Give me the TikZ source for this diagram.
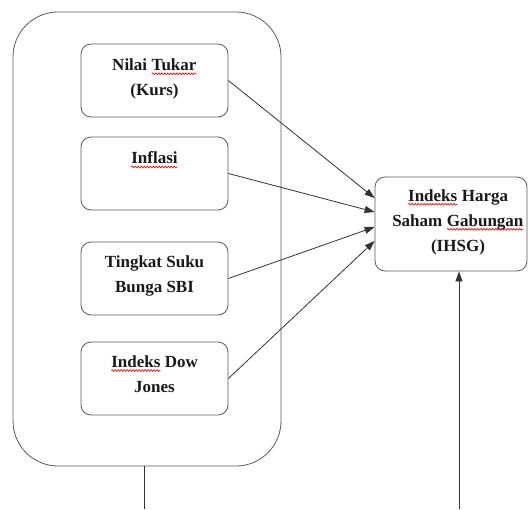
\documentclass[tikz,border=0pt]{standalone}
\usepackage{fontspec}
\setmainfont{Liberation Serif}
\usetikzlibrary{decorations.pathmorphing,arrows.meta}
\newcommand{\sqw}[1]{\tikz[baseline=(w.base)]{\node[draw=none,fill=none,sharp corners,inner sep=0pt,outer sep=0pt,minimum width=0pt,minimum height=0pt,anchor=base](w) at (0,0){#1};\draw[sharp corners,draw=red!85!black,line width=0.6pt,decorate,decoration={snake,amplitude=0.9pt,segment length=3pt}]([yshift=-3.2pt]w.base west)--([yshift=-3.2pt]w.base east);}}
\begin{document}
\begin{tikzpicture}[x=1pt,y=-1pt,
  txt/.style={font=\bfseries\fontsize{17}{25}\selectfont, align=center, text=black!90},
  box/.style={draw=black!65, line width=0.8pt, rounded corners=10pt, minimum width=147pt, minimum height=73pt, inner sep=0pt},
  conn/.style={draw=black!80, line width=0.8pt},
  arr/.style={conn, -{Triangle[length=10pt,width=7pt]}}]
\useasboundingbox (0,0) rectangle (530,509);
\node[draw=black!65, line width=0.8pt, rounded corners=45pt, minimum width=268pt, minimum height=454pt, inner sep=0pt] (O) at (147,239) {};
\node[box] (b1) at (154.5,80.5) {};
\node[txt] (t1) at (154.5,79) {Nilai \sqw{Tukar}\\(Kurs)};
\node[box] (b2) at (154.5,173.5) {};
\node[txt] (t2) at (154.5,160) {\sqw{Inflasi}};
\node[box] (b3) at (154.5,278.5) {};
\node[txt] (t3) at (154.5,276) {Tingkat Suku\\Bunga SBI};
\node[box] (b4) at (154.5,378.5) {};
\node[txt] (t4) at (154.5,374) {\sqw{Indeks} Dow\\Jones};
\node[box, minimum width=152pt, minimum height=94pt] (R) at (451,224) {};
\node[txt] (Rt) at (458,222) {\sqw{Indeks} Harga\\Saham \sqw{Gabungan}\\(IHSG)};
\draw[arr] (b1.east) -- ([yshift=26pt]R.west);
\draw[arr] (b2.east) -- ([yshift=12pt]R.west);
\draw[arr] (b3.east) -- ([yshift=-3pt]R.west);
\draw[arr] (b4.east) -- ([yshift=-17pt]R.west);
\coordinate (lb) at (144,509);
\coordinate (rb) at (459,509);
\draw[conn] (lb |- O.south) -- (lb);
\draw[arr] (rb) -- (rb |- R.south);
\end{tikzpicture}
\end{document}
